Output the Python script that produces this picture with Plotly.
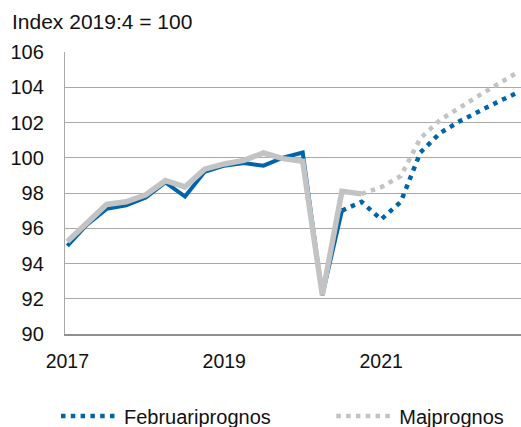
import plotly.graph_objects as go

quarters = [f"{y}Q{q}" for y in range(2017, 2023) for q in range(1, 5)]

feb_outcome = [95.0, 96.2, 97.1, 97.3, 97.75, 98.6, 97.8, 99.2, 99.55, 99.7,
               99.55, 100.0, 100.3, 92.2, 97.0]
feb_forecast = [97.0, 97.5, 96.5, 97.5, 100.3, 101.4, 102.07, 102.67, 103.2, 103.72]

maj_outcome = [95.25, 96.3, 97.35, 97.5, 97.9, 98.7, 98.35, 99.35, 99.65, 99.85,
               100.27, 99.95, 99.8, 92.2, 98.1, 97.95]
maj_forecast = [97.95, 98.33, 98.96, 101.1, 102.14, 102.86, 103.54, 104.21, 104.88]

tick_quarters = ["2017Q1", "2019Q1", "2021Q1"]
tick_labels = ["2017", "2019", "2021"]
y_ticks = [90, 92, 94, 96, 98, 100, 102, 104, 106]

BLUE = "#0064AA"
GREY = "#C3C3C3"
FONT = "Liberation Sans, Arial, sans-serif"
NBSP = "\u00a0"

n_feb = len(feb_outcome)
n_maj = len(maj_outcome)

fig = go.Figure()
fig.add_trace(go.Scatter(x=quarters[:n_feb], y=feb_outcome, mode="lines",
                         line=dict(color=BLUE, width=4), showlegend=False,
                         hoverinfo="skip"))
fig.add_trace(go.Scatter(x=quarters[:n_maj], y=maj_outcome, mode="lines",
                         line=dict(color=GREY, width=5.5), showlegend=False,
                         hoverinfo="skip"))
fig.add_trace(go.Scatter(x=quarters[n_feb - 1:], y=feb_forecast, mode="lines",
                         name="Februariprognos" + NBSP * 10,
                         line=dict(color=BLUE, width=4.5, dash="4.5px,5.3px")))
fig.add_trace(go.Scatter(x=quarters[n_maj - 1:], y=maj_forecast, mode="lines",
                         name="Majprognos",
                         line=dict(color=GREY, width=4.5, dash="4.5px,5.3px")))

fig.update_layout(
    width=521, height=427,
    margin=dict(l=65, r=0, t=52, b=93),
    paper_bgcolor="white", plot_bgcolor="white",
    font=dict(family=FONT, color="#111111", size=20),
    title=dict(text="Index 2019:4 = 100", xref="container", yref="container",
               x=12 / 521, xanchor="left", y=1 - 22 / 427, yanchor="middle",
               font=dict(size=21, family=FONT, color="#111111")),
    xaxis=dict(type="category", categoryorder="array", categoryarray=quarters,
               range=[-0.12, 23.13], tickvals=tick_quarters, ticktext=tick_labels,
               showgrid=False, showline=True, linecolor="#8f8f8f", linewidth=1.5,
               ticks="", ticklabelstandoff=9, tickfont=dict(size=19.5)),
    yaxis=dict(range=[90, 106], tickvals=y_ticks, showgrid=True,
               gridcolor="#a9a9a9", gridwidth=1.4, zeroline=False,
               showline=True, linecolor="#a9a9a9", linewidth=1.4,
               ticks="", ticklabelstandoff=16, tickfont=dict(size=20)),
    legend=dict(orientation="h", xref="container", yref="container",
                x=56 / 521, xanchor="left",
                y=1 - 416 / 427, yanchor="middle", itemwidth=58,
                font=dict(size=20, family=FONT, color="#111111"),
                bgcolor="rgba(0,0,0,0)"),
)

fig.write_html("out.html", config={"displayModeBar": False},
               post_script="document.body.style.margin='0';")
